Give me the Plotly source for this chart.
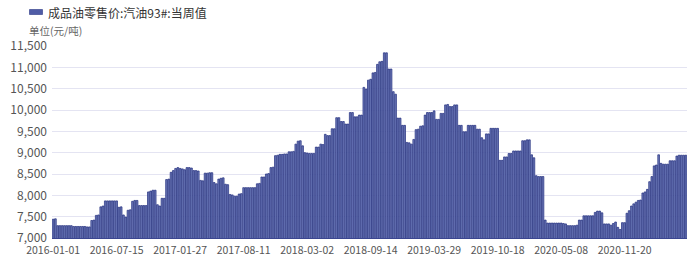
import plotly.graph_objects as go

series_name = "成品油零售价:汽油93#:当周值"
unit_label = "单位(元/吨)"

tick_labels = ["2016-01-01", "2016-07-15", "2017-01-27", "2017-08-11", "2018-03-02",
               "2018-09-14", "2019-03-29", "2019-10-18", "2020-05-08", "2020-11-20"]

values_2016 = [
    7440, 7450, 7290, 7290, 7290, 7290, 7290, 7290, 7290, 7270,
    7270, 7270, 7270, 7270, 7270, 7260, 7260, 7410, 7420, 7530,
    7540, 7730, 7750, 7870, 7870, 7870, 7870, 7870, 7870, 7720,
    7730, 7540, 7490, 7650, 7660, 7860, 7880, 7880, 7760, 7760,
    7760, 7760, 8080, 8100, 8120, 8120, 7780, 7750, 7930, 7930,
    8370, 8380, 8540, 8580, 8630, 8650,
]
values_2017 = [
    8630, 8620, 8600, 8650, 8650, 8640, 8580, 8580, 8570, 8350,
    8340, 8520, 8520, 8530, 8530, 8300, 8270, 8380, 8400, 8410,
    8260, 8250, 8020, 8010, 7980, 7980, 8030, 8040, 8180, 8180,
    8180, 8180, 8180, 8180, 8270, 8280, 8430, 8430, 8500, 8510,
    8650, 8660, 8930, 8940, 8960, 8960, 8970, 8970, 9020, 9020,
    9030, 9200, 9270, 9280, 9160, 9000, 8990,
]
values_2018 = [
    8980, 8980, 8980, 9130, 9130, 9200, 9190, 9430, 9400, 9400,
    9560, 9560, 9820, 9820, 9730, 9730, 9670, 9670, 9940, 9940,
    9840, 9840, 9880, 9880, 10530, 10490, 10700, 10720, 10870, 10880,
    11070, 11130, 11140, 11340, 11340, 10960, 10960, 10430, 10370, 9810,
    9810, 9640, 9640, 9240, 9230, 9200, 9310, 9540, 9550, 9620,
    9630, 9880, 9940, 9940, 9940, 9980,
]
values_2019 = [
    9780, 9780, 9920, 9920, 10120, 10130, 10080, 10080, 10120, 10120,
    9640, 9640, 9490, 9490, 9640, 9640, 9640, 9640, 9550, 9550,
    9350, 9300, 9440, 9440, 9570, 9570, 9570, 9570, 8820, 8820,
    8900, 8900, 8980, 8980, 9040, 9040, 9040, 9040, 9280, 9280,
    9300, 9300, 8950, 8880, 8460, 8440, 8440, 8440, 7420, 7350,
    7350, 7350, 7350, 7350, 7350, 7350,
]
values_2020 = [
    7340, 7330, 7290, 7290, 7290, 7290, 7300, 7420, 7420, 7520,
    7520, 7520, 7520, 7520, 7600, 7630, 7630, 7590, 7330, 7330,
    7330, 7300, 7340, 7375, 7250, 7200, 7360, 7360, 7580, 7640,
    7750, 7800, 7840, 7880, 7890, 8055, 8080, 8140, 8320, 8440,
    8690, 8710, 8950, 8750, 8730, 8730, 8730, 8810, 8810, 8810,
    8920, 8940, 8940, 8940, 8940,
]

values = values_2016 + values_2017 + values_2018 + values_2019 + values_2020
positions = list(range(len(values)))
label_step = 28
tick_positions = [i * label_step for i in range(len(tick_labels))]

FONT = "Noto Sans CJK SC, Noto Sans, sans-serif"

fig = go.Figure()
fig.add_trace(go.Bar(
    x=positions, y=values, name=series_name, showlegend=False,
    marker=dict(color="#6e7bb9", line=dict(color="#212c7c", width=0.7)),
))

# plot area in pixels: x 52..687, y 46..238
L, R, T, B = 52, 687, 46, 238
W, H = R - L, B - T
def px(x):
    return (x - L) / W
def py(y):
    return (B - y) / H

fig.add_shape(type="rect", xref="paper", yref="paper",
              x0=px(29.5), x1=px(42.5), y0=py(14.5), y1=py(9.5),
              fillcolor="#4f5ca6", line=dict(color="#2a3684", width=0.6))
fig.add_annotation(xref="paper", yref="paper", x=px(46), y=py(12),
                   text=series_name, showarrow=False, xanchor="left", yanchor="middle",
                   font=dict(family=FONT, size=12, color="#333333"))
fig.add_annotation(xref="paper", yref="paper", x=px(27), y=py(30.5),
                   text=unit_label, showarrow=False, xanchor="left", yanchor="middle",
                   font=dict(family=FONT, size=10.5, color="#666666"))

fig.update_layout(
    width=700, height=257,
    margin=dict(l=L, r=700 - R, t=T, b=257 - B, pad=0, autoexpand=False),
    paper_bgcolor="white", plot_bgcolor="white",
    bargap=0.24,
    font=dict(family=FONT),
    xaxis=dict(range=[-0.5, len(values) - 0.5], tickmode="array",
               tickvals=tick_positions, ticktext=tick_labels,
               showgrid=False, zeroline=False, showline=True,
               linecolor="#3b4690", linewidth=1, ticks="",
               ticklabelstandoff=2, automargin=False,
               tickfont=dict(family=FONT, size=10.5, color="#555555")),
    yaxis=dict(range=[7000, 11500], dtick=500, tickformat=",d",
               showgrid=True, gridcolor="#e4e4f2", gridwidth=1,
               zeroline=False, showline=False, ticks="", automargin=False,
               ticklabelstandoff=4,
               tickfont=dict(family=FONT, size=12, color="#555555")),
)

fig.write_html("out.html")
